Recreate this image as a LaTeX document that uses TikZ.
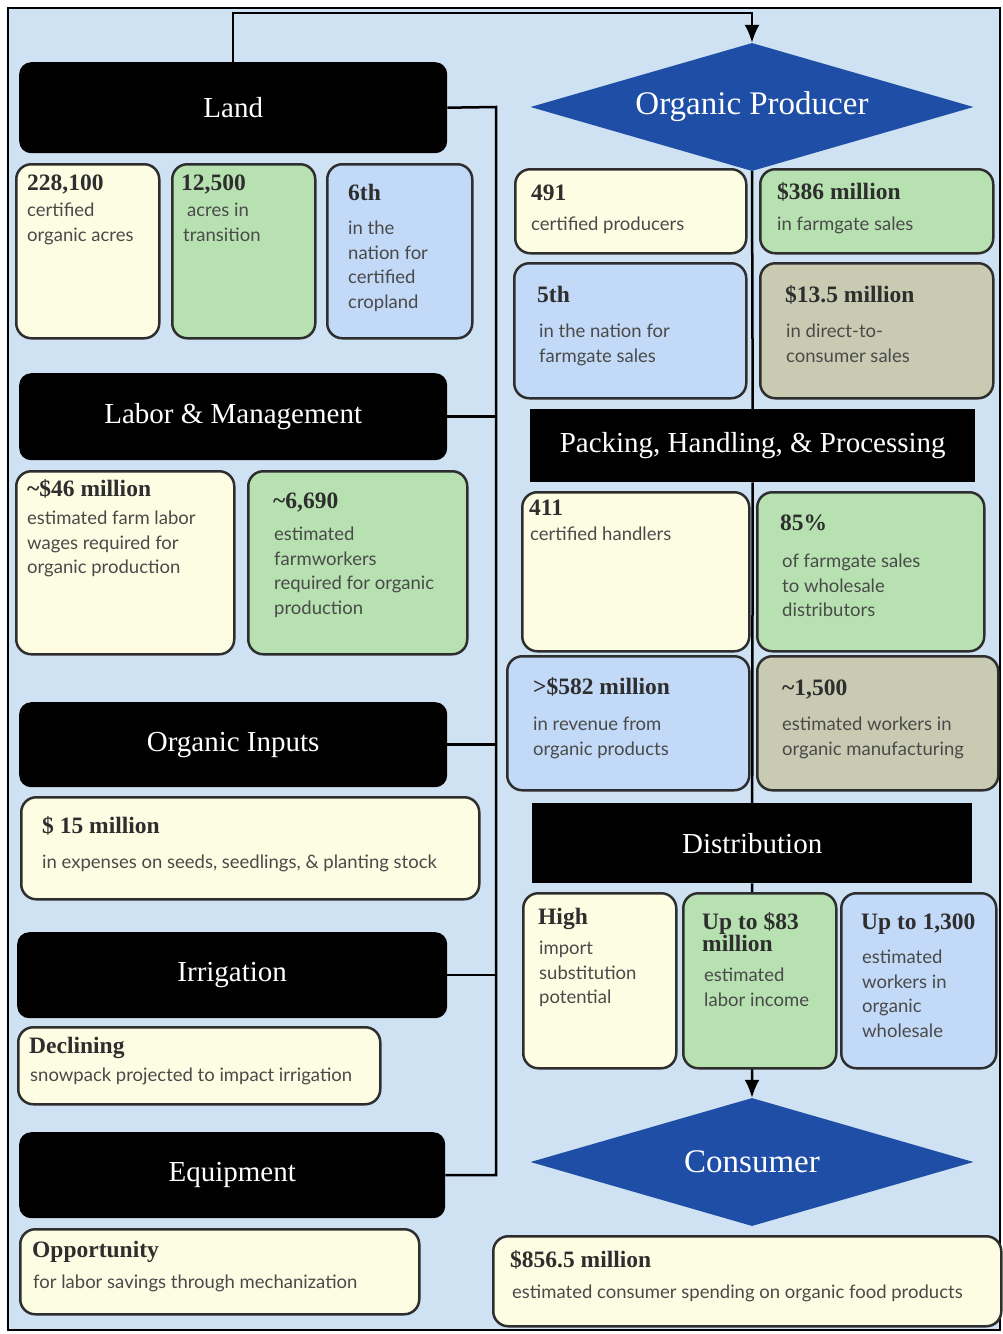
\documentclass[tikz,border=0pt]{standalone}
\usepackage{fontspec}
\setmainfont{Liberation Serif}
\setsansfont{Lato}
\usetikzlibrary{shapes.geometric,arrows.meta}

\definecolor{panel}{HTML}{CFE2F3}
\definecolor{cream}{HTML}{FDFDE3}
\definecolor{leaf}{HTML}{B7E1B1}
\definecolor{sky}{HTML}{C2D9F7}
\definecolor{stone}{HTML}{C9CAB2}
\definecolor{royal}{HTML}{1E4EA6}
\definecolor{ink}{HTML}{2E2E2E}
\definecolor{graytext}{HTML}{4A4A4A}

\tikzset{
  head/.style={fill=black, rounded corners=12pt, anchor=north west, inner sep=0pt,
    text=white, font=\fontsize{29}{34}\selectfont},
  card/.style={draw=ink, line width=2.5pt, rounded corners=15pt, anchor=north west, inner sep=0pt},
  num/.style={anchor=base west, inner sep=0pt, text=ink, align=left,
    font=\bfseries\fontsize{23.5}{19}\selectfont},
  txt/.style={anchor=north west, inner sep=0pt, align=left, text=graytext,
    font=\sffamily\fontsize{18.5}{24.5}\selectfont},
  goal/.style={diamond, fill=royal, aspect=3.46, minimum width=443pt, minimum height=128pt,
    inner sep=0pt, text=white, font=\fontsize{33}{38}\selectfont},
  link/.style={line width=2.5pt},
  tip/.style={-{Latex[length=18pt,width=15pt]}}
}

\begin{document}
\begin{tikzpicture}[x=1pt,y=-1pt]
    \useasboundingbox (0,0) rectangle (1003,1334);
    \draw[line width=2pt, fill=panel] (8,8) rectangle (1000,1330);

    % left column headings
    \node[head, minimum width=428pt, minimum height=91pt] (land) at (19,62) {Land};
    \node[head, minimum width=428pt, minimum height=87pt] (labor) at (19,373) {Labor \& Management};
    \node[head, minimum width=428pt, minimum height=85pt] (inputs) at (19,702) {Organic Inputs};
    \node[head, minimum width=430pt, minimum height=86pt] (irrigation) at (17,932) {Irrigation};
    \node[head, minimum width=426pt, minimum height=86pt] (equipment) at (19,1132) {Equipment};

    % right column stages
    \node[goal] (producer) at (752,107) {Organic Producer};
    \node[head, rounded corners=0pt, minimum width=445pt, minimum height=73pt] (packing) at (530,409) {Packing, Handling, \& Processing};
    \node[head, rounded corners=0pt, minimum width=440pt, minimum height=80pt] (distribution) at (532,803) {Distribution};
    \node[goal] (consumer) at (752,1162) {Consumer};

    % connectors
    \draw[link, tip] (land.north) -- ++(0,-49) -| (producer.north);
    \coordinate (bus) at (496,107);
    \draw[link] (land.east) -- (bus) |- (equipment.east);
    \foreach \n in {labor,inputs,irrigation}
      \draw[link] (\n.east) -- (\n.east -| bus);
    \draw[link] (producer.south) -- (packing.north);
    \draw[link] (packing.south) -- (distribution.north);
    \draw[link, tip] (distribution.south) -- (consumer.north);

    % land
    \node[card, fill=cream, minimum width=143pt, minimum height=174pt] (acres) at (15,163) {};
    \node[num] (acres-n) at (27,190) {228,100};
    \node[txt] (acres-t) at (27,203) {certified\\organic acres};
    \node[card, fill=leaf, minimum width=143pt, minimum height=174pt] (transit) at (171,163) {};
    \node[num] (transit-n) at (181,190) {12,500};
    \node[txt] (transit-t) at (183,203) {\hspace{4pt}acres in\\transition};
    \node[card, fill=sky, minimum width=145pt, minimum height=174pt] (rank) at (326,163) {};
    \node[num] (rank-n) at (348,200) {6th};
    \node[txt] (rank-t) at (348,221) {in the\\nation for\\certified\\cropland};

    % labor
    \node[card, fill=cream, minimum width=218pt, minimum height=183pt] (wages) at (15,470) {};
    \node[num] (wages-n) at (27,496) {\textasciitilde\$46 million};
    \node[txt] (wages-t) at (27,511) {estimated farm labor\\wages required for\\organic production};
    \node[card, fill=leaf, minimum width=219pt, minimum height=183pt] (workers) at (247,470) {};
    \node[num] (workers-n) at (273,508) {\textasciitilde6,690};
    \node[txt] (workers-t) at (274,527) {estimated\\farmworkers\\required for organic\\production};

    % inputs, irrigation, equipment
    \node[card, fill=cream, minimum width=458pt, minimum height=102pt] (seeds) at (20,796) {};
    \node[num] (seeds-n) at (42,833) {\$ 15 million};
    \node[txt] (seeds-t) at (42,855) {in expenses on seeds, seedlings, \& planting stock};
    \node[card, fill=cream, minimum width=362pt, minimum height=77pt] (snow) at (17,1026) {};
    \node[num] (snow-n) at (29,1053) {Declining};
    \node[txt] (snow-t) at (30,1068) {snowpack projected to impact irrigation};
    \node[card, fill=cream, minimum width=399pt, minimum height=85pt] (mech) at (19,1228) {};
    \node[num] (mech-n) at (32,1257) {Opportunity};
    \node[txt] (mech-t) at (33,1275) {for labor savings through mechanization};

    % producer
    \node[card, fill=cream, minimum width=231pt, minimum height=84pt] (growers) at (514,168) {};
    \node[num] (growers-n) at (531,200) {491};
    \node[txt] (growers-t) at (531,217) {certified producers};
    \node[card, fill=leaf, minimum width=233pt, minimum height=84pt] (farmgate) at (759,168) {};
    \node[num] (farmgate-n) at (777,199) {\$386 million};
    \node[txt] (farmgate-t) at (777,217) {in farmgate sales};
    \node[card, fill=sky, minimum width=232pt, minimum height=135pt] (nation) at (513,262) {};
    \node[num] (nation-n) at (537,302) {5th};
    \node[txt] (nation-t) at (539,324) {in the nation for\\farmgate sales};
    \node[card, fill=stone, minimum width=233pt, minimum height=135pt] (direct) at (759,262) {};
    \node[num] (direct-n) at (785,302) {\$13.5 million};
    \node[txt] (direct-t) at (786,324) {in direct-to-\\consumer sales};

    % packing
    \node[card, fill=cream, minimum width=227pt, minimum height=159pt] (handlers) at (521,491) {};
    \node[num] (handlers-n) at (529,515) {411};
    \node[txt] (handlers-t) at (530,527) {certified handlers};
    \node[card, fill=leaf, minimum width=227pt, minimum height=159pt] (wholesale) at (756,491) {};
    \node[num] (wholesale-n) at (780,530) {85\%};
    \node[txt] (wholesale-t) at (782,554) {of farmgate sales\\to wholesale\\distributors};
    \node[card, fill=sky, minimum width=242pt, minimum height=134pt] (revenue) at (506,655) {};
    \node[num] (revenue-n) at (533,694) {>\$582 million};
    \node[txt] (revenue-t) at (533,717) {in revenue from\\organic products};
    \node[card, fill=stone, minimum width=241pt, minimum height=134pt] (makers) at (756,655) {};
    \node[num] (makers-n) at (782,695) {\textasciitilde1,500};
    \node[txt] (makers-t) at (782,717) {estimated workers in\\organic manufacturing};

    % distribution
    \node[card, fill=cream, minimum width=153pt, minimum height=175pt] (imports) at (522,892) {};
    \node[num] (imports-n) at (538,924) {High};
    \node[txt] (imports-t) at (539,941) {import\\substitution\\potential};
    \node[card, fill=leaf, minimum width=153pt, minimum height=175pt] (income) at (682,892) {};
    \node[num, anchor=north west] (income-n) at (702,912) {Up to \$83\\million};
    \node[txt] (income-t) at (704,968) {estimated\\labor income};
    \node[card, fill=sky, minimum width=155pt, minimum height=175pt] (jobs) at (840,892) {};
    \node[num] (jobs-n) at (861,929) {Up to 1,300};
    \node[txt] (jobs-t) at (862,950) {estimated\\workers in\\organic\\wholesale};

    % consumer
    \node[card, fill=cream, minimum width=508pt, minimum height=90pt] (spending) at (492,1235) {};
    \node[num] (spending-n) at (510,1267) {\$856.5 million};
    \node[txt] (spending-t) at (512,1285) {estimated consumer spending on organic food products};
\end{tikzpicture}
\end{document}
